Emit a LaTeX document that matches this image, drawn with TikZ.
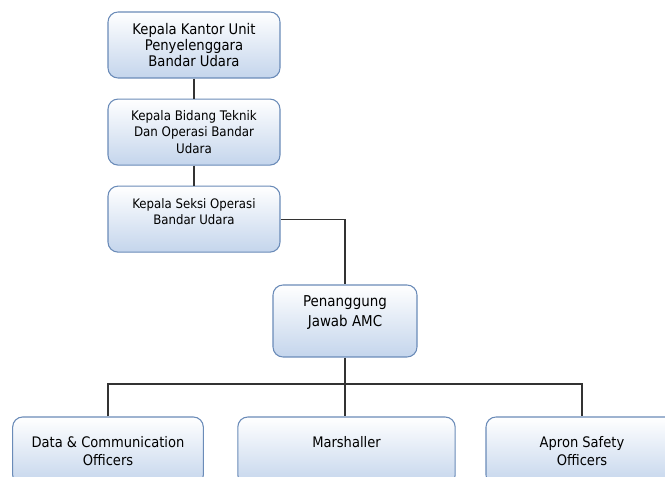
\documentclass[tikz,border=0pt]{standalone}
\usepackage{fontspec}
\setmainfont{DejaVu Sans Condensed}
\usepackage{xcolor}
\usepackage{tikz}
\usetikzlibrary{positioning, calc}
\definecolor{boxborder}{HTML}{6A8BB8}
\definecolor{boxblue}{HTML}{C4D5EC}
\definecolor{linkgray}{HTML}{333333}

\begin{document}
\begin{tikzpicture}[
    x=0.75pt, y=-0.75pt,
    orgbox/.style={rectangle, rounded corners=7.5pt, draw=boxborder, line width=0.8pt, top color=white, bottom color=boxblue, align=center, text=black, inner sep=2pt},
    link/.style={draw=linkgray, line width=0.9pt}
]
\useasboundingbox (0,0) rectangle (665,477);

% Column of heads
\node[orgbox, minimum width=129pt, minimum height=49.5pt, font=\fontsize{11}{12}\selectfont] (kantor) at (194,45) {Kepala Kantor Unit\\Penyelenggara\\Bandar Udara};
\node[orgbox, minimum width=129pt, minimum height=49.5pt, font=\fontsize{9.9}{12.4}\selectfont, below=15pt of kantor] (bidang) {Kepala Bidang Teknik\\Dan Operasi Bandar\\Udara};
\node[orgbox, minimum width=129pt, minimum height=49.5pt, font=\fontsize{9.8}{12}\selectfont, below=15pt of bidang] (seksi) {Kepala Seksi Operasi\\Bandar Udara\\\mbox{}};

% AMC
\node[orgbox, minimum width=108pt, minimum height=54pt, font=\fontsize{11.2}{15}\selectfont] (amc) at (345,321) {Penanggung\\Jawab AMC\\\mbox{}};

% Officers row
\node[orgbox, minimum width=143pt, minimum height=51pt, font=\fontsize{10.9}{13.5}\selectfont] (data) at (108,451) {Data \& Communication\\Officers};
\node[orgbox, minimum width=163pt, minimum height=51pt, font=\fontsize{10.9}{13.5}\selectfont] (marsh) at (346.5,451) {Marshaller\\\mbox{}};
\node[orgbox, minimum width=144pt, minimum height=51pt, font=\fontsize{10.9}{13.5}\selectfont] (apron) at (582,451) {Apron Safety\\Officers};

% Links
\coordinate (bus) at (345,384);
\draw[link] (kantor) -- (bidang);
\draw[link] (bidang) -- (seksi);
\draw[link] (seksi.east) -| (amc.north);
\draw[link] (amc.south) -- (bus);
\draw[link] (data.north) |- (bus) -| (apron.north);
\draw[link] (bus) -- (bus |- marsh.north);

\end{tikzpicture}
\end{document}
